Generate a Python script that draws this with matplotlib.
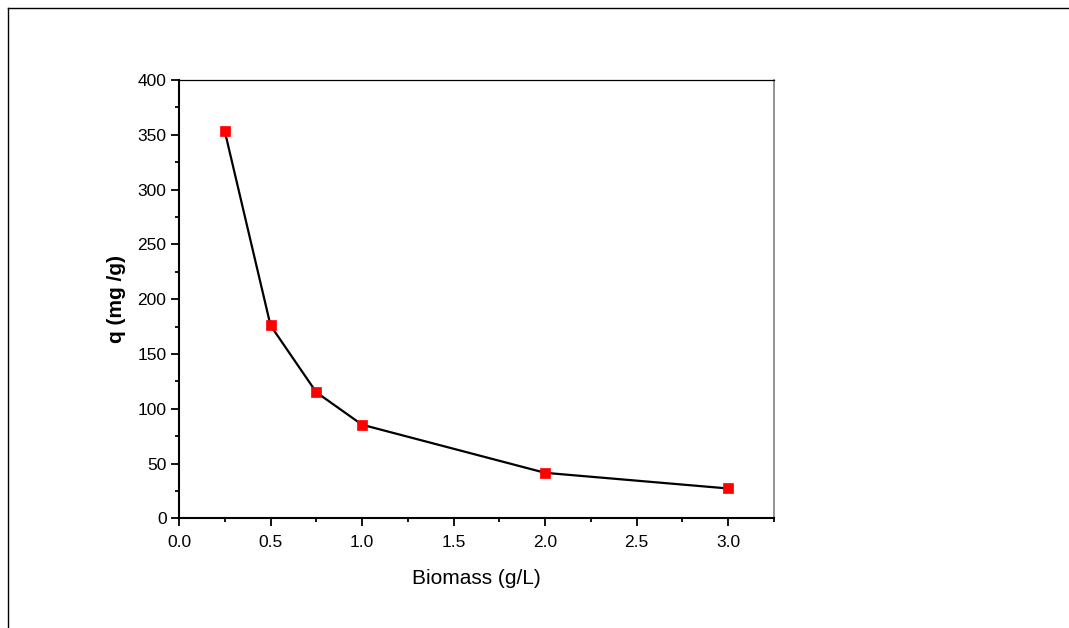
import matplotlib
matplotlib.use("Agg")
import matplotlib.pyplot as plt
from matplotlib.lines import Line2D
from matplotlib.ticker import MultipleLocator

plt.rcParams['font.family'] = ['Liberation Sans', 'DejaVu Sans']

# Biomass dose (g/L) and adsorption capacity q (mg/g)
biomass = [0.25, 0.5, 0.75, 1.0, 2.0, 3.0]
q_values = [353.3, 176.0, 115.0, 85.4, 41.5, 27.2]

x_ticks = [0.0, 0.5, 1.0, 1.5, 2.0, 2.5, 3.0]
y_ticks = [0, 50, 100, 150, 200, 250, 300, 350, 400]

W, H = 1069, 628
fig = plt.figure(figsize=(W / 100, H / 100), dpi=100)
ax = fig.add_axes([179 / W, 1 - 518.3 / H, (774 - 179) / W, (518.3 - 80) / H])

ax.plot(biomass, q_values, color='black', lw=1.6, zorder=2)
ax.plot(biomass, q_values, ls='none', marker='s', ms=7.2,
        mfc='#ff0000', mec='#ff0000', mew=0.5, zorder=3)

ax.set_xlim(0, 3.25)
ax.set_ylim(0, 400)
ax.set_xticks(x_ticks)
ax.set_xticklabels([f"{v:.1f}" for v in x_ticks])
ax.set_yticks(y_ticks)
ax.set_yticklabels([str(v) for v in y_ticks])
ax.xaxis.set_minor_locator(MultipleLocator(0.25))
ax.yaxis.set_minor_locator(MultipleLocator(25))

ax.tick_params(axis='both', which='major', direction='out', length=6,
               width=1.3, labelsize=12.5, top=False, right=False)
ax.tick_params(axis='x', which='major', pad=6)
ax.tick_params(axis='y', which='major', pad=3)
ax.tick_params(axis='both', which='minor', direction='out', length=3.2,
               width=1.3, top=False, right=False)

for side in ('left', 'bottom'):
    ax.spines[side].set_linewidth(1.5)
ax.spines['top'].set_linewidth(0.9)
ax.spines['right'].set_linewidth(1.2)
ax.spines['right'].set_color('#808080')

ax.set_xlabel('Biomass (g/L)', fontsize=15, labelpad=14)
ax.set_ylabel('q (mg /g)', fontsize=15, fontweight='bold', labelpad=8)

# outer frame along top and left edges
fig.add_artist(Line2D([8 / W, 1.0], [1 - 8 / H, 1 - 8 / H],
                      transform=fig.transFigure, color='black', lw=1.0))
fig.add_artist(Line2D([8 / W, 8 / W], [0.0, 1 - 8 / H],
                      transform=fig.transFigure, color='black', lw=1.0))

fig.savefig('out.png', dpi=100, facecolor='white')
